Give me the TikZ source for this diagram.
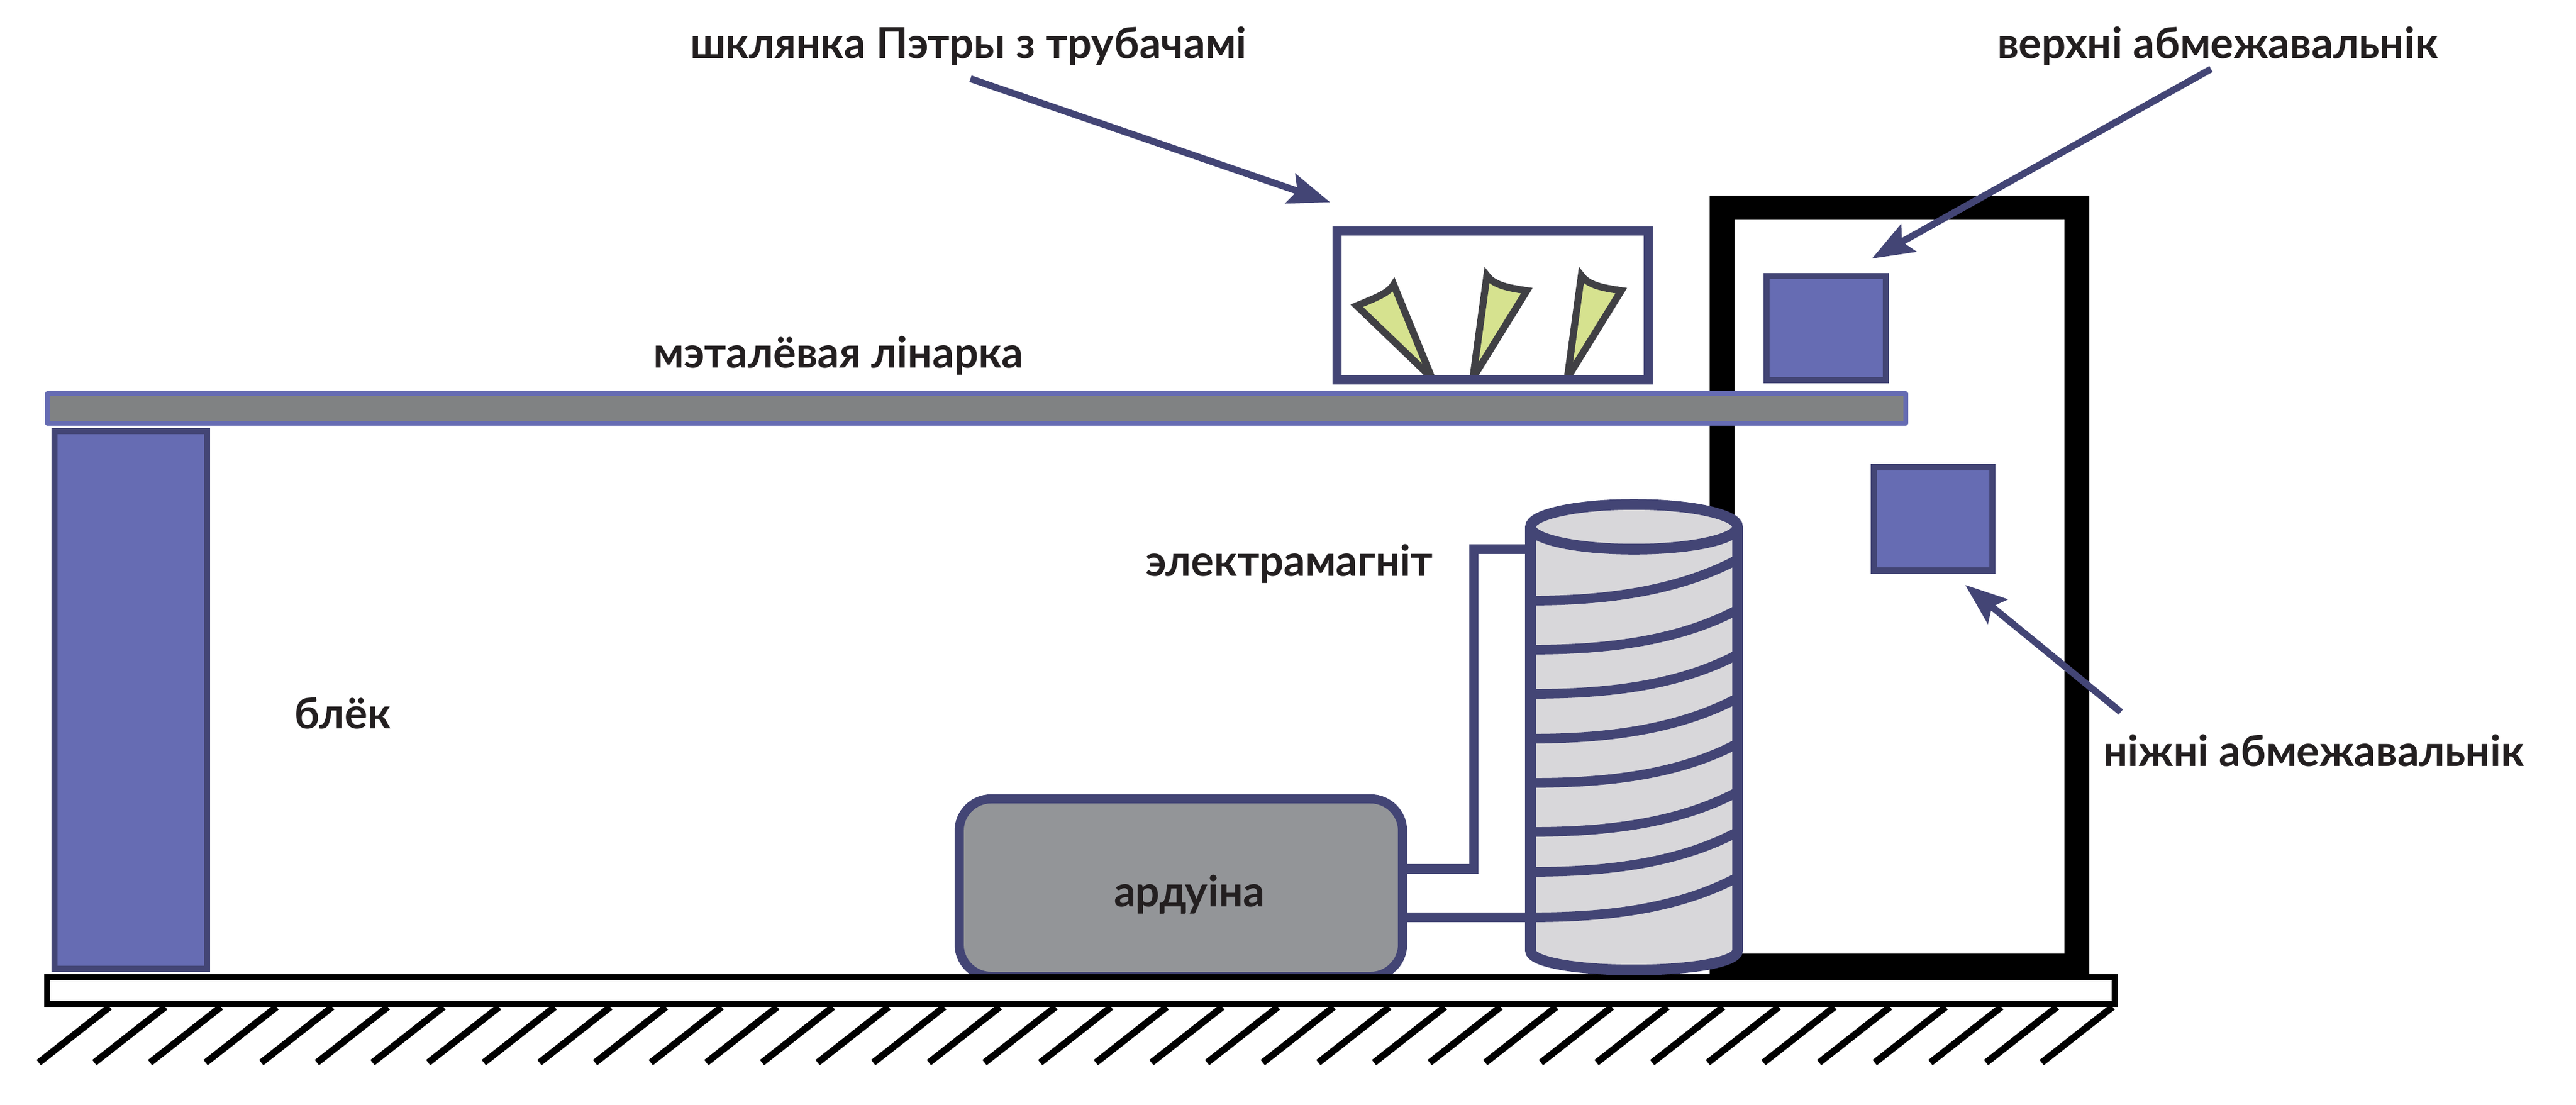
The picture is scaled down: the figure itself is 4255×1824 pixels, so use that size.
\documentclass[tikz,border=0pt]{standalone}
\usepackage{fontspec}
\setmainfont{Lato}
\usetikzlibrary{arrows.meta}
\definecolor{navyline}{RGB}{67,69,117}
\definecolor{bluefill}{RGB}{102,108,179}
\definecolor{rulergray}{RGB}{128,130,131}
\definecolor{boardgray}{RGB}{147,149,152}
\definecolor{coilgray}{RGB}{216,215,218}
\definecolor{conegreen}{RGB}{214,226,143}
\definecolor{conedark}{RGB}{64,64,68}
\definecolor{textdark}{RGB}{35,31,32}
\tikzset{
	partlabel/.style={anchor=base west, inner sep=0pt, outer sep=0pt, text=textdark, font=\fontsize{20.1}{24}\selectfont\bfseries},
	stopbox/.style={draw=navyline, fill=bluefill, line width=2.9pt, outer sep=0pt, inner sep=0pt},
	boardbox/.style={draw=navyline, fill=boardgray, line width=4.3pt, rounded corners=15pt, outer sep=0pt, inner sep=0pt},
	glassbox/.style={draw=navyline, line width=4.3pt, outer sep=0pt, inner sep=0pt},
	callout/.style={navyline, line width=3.2pt, -{Stealth[length=19.6pt, width=14.5pt, inset=3.4pt]}},
	wire/.style={navyline, line width=4.5pt},
	coilwall/.style={draw=navyline, fill=coilgray, line width=5pt},
	cone/.style={draw=conedark, fill=conegreen, line width=3.3pt, line join=miter},
	hatchline/.style={black, line width=3.2pt},
}
\begin{document}
\begin{tikzpicture}[x=.01cm, y=-.01cm]
	\useasboundingbox (0, 0) rectangle (4255, 1824);

	\fill[black, even odd rule] (2824, 323) rectangle (3451, 1619) (2865, 363) rectangle (3410, 1575);
	\foreach \i in {0,...,36}
		\draw[hatchline] ({181+91.9*\i}, 1663) -- ({64+91.9*\i}, 1755);

	\node[boardbox, minimum width=7.32cm, minimum height=2.93cm] (arduino) at (1950.5, 1466) {};
	\draw[black, fill=white, line width=2.85pt] (78, 1614) rectangle (3493, 1658);
	\draw[stopbox] (90, 712) rectangle (342, 1600);
	\draw[draw=bluefill, fill=rulergray, line width=2.2pt, line join=round] (78, 650) rectangle (3148, 699);

	\begin{scope}
		\clip (2208, 381) rectangle (2723, 628);
		\draw[cone] (2365, 624) -- (2241, 505) .. controls (2272, 492) and (2294, 484) .. (2302, 470) -- cycle;
		\foreach \dx in {0, 156}
			\draw[cone, xshift=\dx*.01cm] (2433, 624) -- (2456, 455) .. controls (2468, 472) and (2495, 476) .. (2522, 480) -- cycle;
	\end{scope}
	\node[glassbox, minimum width=5.14cm, minimum height=2.46cm] (glass) at (2465.5, 504.5) {};

	\node[stopbox, minimum width=1.97cm, minimum height=1.72cm] (upperstop) at (3016.5, 542) {};
	\node[stopbox, minimum width=1.96cm, minimum height=1.71cm] (lowerstop) at (3193, 857) {};

	\coordinate (wirecorner) at (2434.5, 1435);
	\coordinate (coilupper) at (2528, 907);
	\coordinate (coillower) at (2528, 1515);
	\draw[wire] (arduino.east |- wirecorner) -- (wirecorner) |- (coilupper);
	\draw[wire] (arduino.east |- coillower) -- (coillower);

	\draw[coilwall] (2528, 870) -- (2528, 1570) .. controls (2528, 1590) and (2610, 1602) .. (2699, 1602) .. controls (2788, 1602) and (2870, 1590) .. (2870, 1570) -- (2870, 870);
	\draw[coilwall] (2699, 870) ellipse [x radius=171, y radius=37];
	\foreach \yl/\yr in {992/924, 1073/1007, 1146/1081, 1220/1153, 1293/1228, 1374/1308, 1440/1374, 1515/1449}
		\draw[wire] (2528, \yl) .. controls (2650, \yl) and (2770, \yr+53) .. (2870, \yr);

	\node[partlabel] (glasslabel) at (1140, 96) {шклянка Пэтры з трубачамі};
	\node[partlabel] (upperlabel) at (3299, 96) {верхні абмежавальнік};
	\node[partlabel] (rulerlabel) at (1079, 607) {мэталёвая лінарка};
	\node[partlabel] (coillabel) at (1892, 951) {электрамагніт};
	\node[partlabel] (blocklabel) at (486, 1203) {блёк};
	\node[partlabel] (arduinolabel) at (1840, 1497) {ардуіна};
	\node[partlabel] (lowerlabel) at (3474, 1265) {ніжні абмежавальнік};

	\coordinate (glasstail) at (1603, 130);
	\coordinate (glasstip) at (2197, 334);
	\coordinate (uppertail) at (3652, 114);
	\coordinate (uppertip) at (3092, 427);
	\coordinate (lowertail) at (3503, 1176);
	\coordinate (lowertip) at (3246, 966);
	\draw[callout] (glasstail) -- (glasstip);
	\draw[callout] (uppertail) -- (uppertip);
	\draw[callout] (lowertail) -- (lowertip);
\end{tikzpicture}
\end{document}
